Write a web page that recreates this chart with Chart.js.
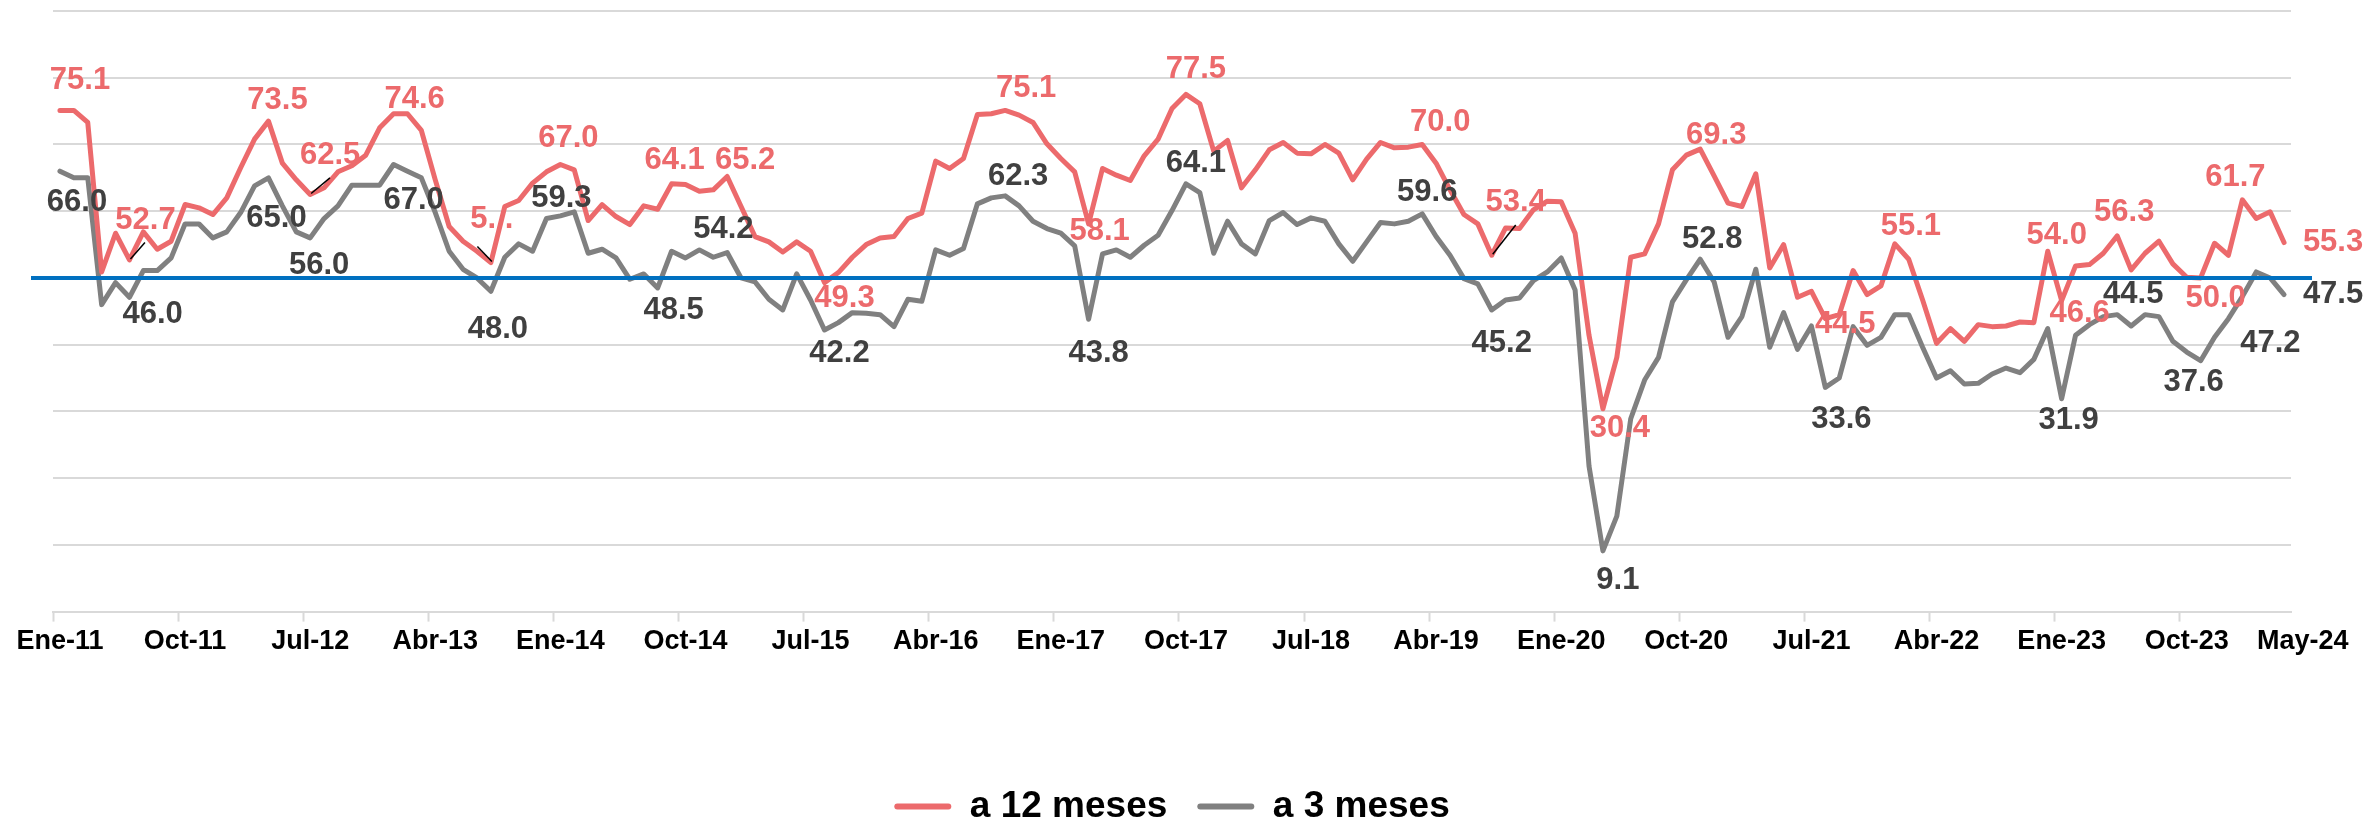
<!DOCTYPE html>
<html>
<head>
<meta charset="utf-8">
<script src="https://cdn.jsdelivr.net/npm/chart.js@4.4.1/dist/chart.umd.min.js"></script>
<style>
  html, body { margin: 0; padding: 0; background: #ffffff; overflow: hidden; width: 2366px; height: 821px; }
  #wrap { position: relative; width: 2366px; height: 835px; }
</style>
</head>
<body>
<div id="wrap"><canvas id="c"></canvas></div>
<script>
// ---------- DATA ----------
const monthNames = ['Ene','Feb','Mar','Abr','May','Jun','Jul','Ago','Sep','Oct','Nov','Dic'];
const startYear = 2011;
const monthCount = 161; // Ene-11 .. May-24
const categories = [];
for (let k = 0; k < monthCount; k++) {
  const yy = String((startYear + Math.floor(k / 12)) % 100).padStart(2, '0');
  categories.push(monthNames[k % 12] + '-' + yy);
}

const seriesNames = ['a 12 meses', 'a 3 meses'];

const a12meses = [
  75.1, 75.1, 73.3, 50.9, 56.7, 52.7, 56.9, 54.3, 55.5, 61.0, 60.5, 59.5,
  62.0, 66.5, 70.8, 73.5, 67.2, 64.7, 62.5, 63.5, 65.9, 66.8, 68.4, 72.5,
  74.6, 74.6, 72.1, 64.7, 57.7, 55.5, 54.0, 52.3, 60.7, 61.6, 64.2, 65.9,
  67.0, 66.2, 58.6, 61.0, 59.2, 58.0, 60.8, 60.3, 64.1, 64.0, 63.0, 63.2,
  65.2, 60.7, 56.2, 55.4, 53.9, 55.4, 54.0, 49.3, 50.8, 53.1, 55.0, 56.0,
  56.2, 58.9, 59.7, 67.5, 66.4, 67.9, 74.5, 74.6, 75.1, 74.4, 73.3, 70.1,
  67.9, 65.9, 58.1, 66.4, 65.4, 64.6, 68.3, 70.8, 75.4, 77.5, 76.1, 69.0,
  70.6, 63.5, 66.2, 69.2, 70.3, 68.7, 68.6, 70.0, 68.7, 64.7, 67.8, 70.3,
  69.5, 69.6, 70.0, 67.2, 63.2, 59.5, 58.1, 53.4, 57.5, 57.4, 60.2, 61.5,
  61.4, 56.7, 41.4, 30.4, 38.1, 53.1, 53.6, 58.1, 66.2, 68.4, 69.3, 65.3,
  61.2, 60.7, 65.6, 51.5, 55.0, 47.1, 48.0, 43.9, 44.5, 51.1, 47.5, 48.8,
  55.1, 52.8, 46.7, 40.2, 42.4, 40.5, 43.0, 42.7, 42.8, 43.4, 43.3, 54.0,
  46.6, 51.8, 52.0, 53.7, 56.3, 51.2, 53.7, 55.5, 52.1, 50.1, 50.0, 55.2,
  53.4, 61.7, 58.9, 59.9, 55.3
];

const a3meses = [
  66.0, 65.0, 65.0, 46.0, 49.3, 47.1, 51.1, 51.1, 53.0, 58.1, 58.1, 56.0,
  56.9, 59.8, 63.8, 65.0, 60.8, 56.9, 56.0, 58.9, 60.8, 63.9, 63.9, 63.9,
  67.0, 66.0, 65.0, 59.8, 54.0, 51.3, 50.0, 48.0, 53.1, 55.1, 54.0, 58.9,
  59.3, 59.9, 53.7, 54.3, 53.0, 49.8, 50.6, 48.5, 54.0, 53.0, 54.2, 53.1,
  53.8, 50.0, 49.4, 46.8, 45.2, 50.6, 46.7, 42.2, 43.3, 44.8, 44.7, 44.5,
  42.7, 46.8, 46.5, 54.2, 53.4, 54.4, 61.1, 62.0, 62.3, 60.8, 58.5, 57.4,
  56.7, 54.8, 43.8, 53.6, 54.2, 53.1, 54.9, 56.4, 60.1, 64.1, 62.8, 53.7,
  58.5, 55.1, 53.6, 58.6, 59.8, 58.0, 59.0, 58.5, 55.1, 52.5, 55.4, 58.3,
  58.1, 58.5, 59.6, 56.2, 53.4, 49.9, 49.1, 45.2, 46.7, 47.0, 49.6, 50.9,
  53.0, 48.2, 21.8, 9.1, 14.3, 28.9, 34.7, 38.1, 46.4, 49.7, 52.8, 49.4,
  41.1, 44.2, 51.3, 39.6, 44.8, 39.3, 42.8, 33.6, 35.0, 42.7, 39.9, 41.1,
  44.5, 44.5, 39.6, 35.0, 36.1, 34.1, 34.2, 35.6, 36.5, 35.8, 37.8, 42.4,
  31.9, 41.4, 43.0, 44.2, 44.5, 42.8, 44.5, 44.2, 40.5, 38.9, 37.6, 41.1,
  43.9, 47.2, 50.9, 50.0, 47.5
];

const tickLabels = ['Ene-11','Oct-11','Jul-12','Abr-13','Ene-14','Oct-14','Jul-15','Abr-16','Ene-17',
                    'Oct-17','Jul-18','Abr-19','Ene-20','Oct-20','Jul-21','Abr-22','Ene-23','Oct-23','May-24'];
const tickEvery = 9;
const referenceLevel = 50;

// indices of labelled points in each series
const labelled12 = [0, 5, 15, 18, 24, 31, 36, 44, 48, 55, 68, 74, 81, 98, 103, 111, 118, 128, 132, 143, 144, 148, 154, 157, 160];
const labelled3  = [0, 3, 15, 18, 24, 31, 36, 43, 46, 55, 68, 74, 81, 98, 103, 111, 118, 127, 144, 148, 154, 157, 160];

// ---------- STYLE / PLACEMENT (offsets of labels from their points, px) ----------
const red = '#EC6A6C';
const grey = '#808080';
const redText = '#EC6A6C';
const greyText = '#404040';
const FONT = '"Liberation Sans", Arial, Helvetica, sans-serif';

const offsets12 = {
  0:[20,-30], 5:[16,-39], 15:[9,-21], 18:[20,-39], 24:[21,-14], 31:[1,-43], 36:[8,-26],
  44:[3,-23], 48:[18,-16], 55:[20,16], 68:[21,-22], 74:[11,8], 81:[10,-25], 98:[18,-22],
  103:[24,-53], 111:[17,20], 118:[16,-14], 128:[6,10], 132:[16,-17], 143:[9,-16],
  144:[18,13], 148:[7,-23], 154:[15,21], 157:[-7,-22], 160:[49,0]
};
const leaders12 = { 5:[15.5,-17.3], 18:[19.8,-16.6], 31:[-13.5,-16], 103:[24,-30.3] };
const textOverride12 = { 31: '5. .' };
const offsets3 = {
  0:[17,31], 3:[51,10], 15:[8,41], 18:[9,28], 24:[20,36], 31:[7,38], 36:[1,-17],
  43:[16,23], 46:[24,-20], 55:[15,23], 68:[13,-19], 74:[10,34], 81:[10,-20], 98:[5,-21],
  103:[10,33], 111:[15,30], 118:[12,-20], 127:[16,32], 144:[7,22], 148:[16,-20],
  154:[-7,22], 157:[28,47], 160:[49,0]
};

const valueLabelPlugin = {
  id: 'valueLabels',
  afterDatasetsDraw(chart) {
    const { ctx, chartArea, scales } = chart;
    const yScale = scales.y;
    // reference line at 50
    const yRef = yScale.getPixelForValue(referenceLevel);
    ctx.save();
    ctx.strokeStyle = '#0070C0';
    ctx.lineWidth = 4;
    ctx.beginPath();
    ctx.moveTo(chartArea.left - 22, yRef);
    ctx.lineTo(chartArea.right + 21, yRef);
    ctx.stroke();

    ctx.font = 'bold 31px ' + FONT;
    ctx.textAlign = 'center';
    ctx.textBaseline = 'middle';

    const groups = [
      { ds: 0, idx: labelled12, off: offsets12, lead: leaders12, txt: textOverride12, color: redText },
      { ds: 1, idx: labelled3,  off: offsets3,  lead: {},        txt: {},             color: greyText }
    ];
    groups.forEach(g => {
      const meta = chart.getDatasetMeta(g.ds);
      const values = chart.data.datasets[g.ds].data;
      g.idx.forEach(i => {
        const pt = meta.data[i];
        if (!pt) return;
        const o = g.off[i] || [0, -20];
        if (g.lead[i]) {
          ctx.strokeStyle = '#000000';
          ctx.lineWidth = 1.5;
          ctx.beginPath();
          ctx.moveTo(pt.x + 1, pt.y - 1);
          ctx.lineTo(pt.x + g.lead[i][0], pt.y + g.lead[i][1]);
          ctx.stroke();
        }
        ctx.fillStyle = g.color;
        const t = g.txt[i] !== undefined ? g.txt[i] : values[i].toFixed(1);
        ctx.fillText(t, pt.x + o[0], pt.y + o[1]);
      });
    });
    ctx.restore();
  }
};

Chart.defaults.font.family = FONT;

new Chart(document.getElementById('c'), {
  type: 'line',
  data: {
    labels: categories,
    datasets: [
      { label: seriesNames[0], data: a12meses, borderColor: red, backgroundColor: red,
        borderWidth: 5, pointRadius: 0, tension: 0, borderJoinStyle: 'round', borderCapStyle: 'round' },
      { label: seriesNames[1], data: a3meses, borderColor: grey, backgroundColor: grey,
        borderWidth: 5, pointRadius: 0, tension: 0, borderJoinStyle: 'round', borderCapStyle: 'round' }
    ]
  },
  options: {
    responsive: true,
    maintainAspectRatio: false,
    animation: false,
    events: [],
    layout: { padding: { left: 53, right: 75, top: 11, bottom: 0 } },
    plugins: {
      tooltip: { enabled: false },
      legend: {
        display: true,
        position: 'bottom',
        labels: {
          boxWidth: 57,
          boxHeight: 6,
          padding: 30,
          color: '#000000',
          font: { size: 37, weight: 'bold', family: FONT },
          generateLabels(chart) {
            return chart.data.datasets.map((ds, i) => ({
              text: ds.label,
              fillStyle: ds.borderColor,
              strokeStyle: ds.borderColor,
              lineWidth: 0,
              borderRadius: 3,
              hidden: false,
              datasetIndex: i,
              fontColor: '#000000'
            }));
          }
        }
      }
    },
    scales: {
      x: {
        type: 'category',
        offset: true,
        grid: {
          offset: true,
          drawOnChartArea: false,
          drawTicks: true,
          tickLength: 10,
          tickWidth: 2,
          tickColor: (c) => (c.index !== undefined && c.index % tickEvery === 0) ? '#D9D9D9' : 'rgba(0,0,0,0)'
        },
        border: { display: true, color: '#D9D9D9', width: 2 },
        title: { display: true, text: ' ', font: { size: 10 }, padding: { top: 84, bottom: 0 } },
        ticks: {
          autoSkip: false,
          maxRotation: 0,
          minRotation: 0,
          padding: 4,
          color: '#000000',
          font: { size: 27, weight: 'bold', family: FONT },
          callback: function (value, index) {
            if (index % tickEvery === 0) return tickLabels[index / tickEvery];
            if (index === monthCount - 1) return '     ' + tickLabels[tickLabels.length - 1];
            return '';
          }
        }
      },
      y: {
        min: 0,
        max: 90,
        ticks: { display: false, stepSize: 10 },
        border: { display: false },
        grid: { color: '#D9D9D9', lineWidth: 2, drawTicks: false }
      }
    }
  },
  plugins: [valueLabelPlugin]
});
</script>
</body>
</html>
